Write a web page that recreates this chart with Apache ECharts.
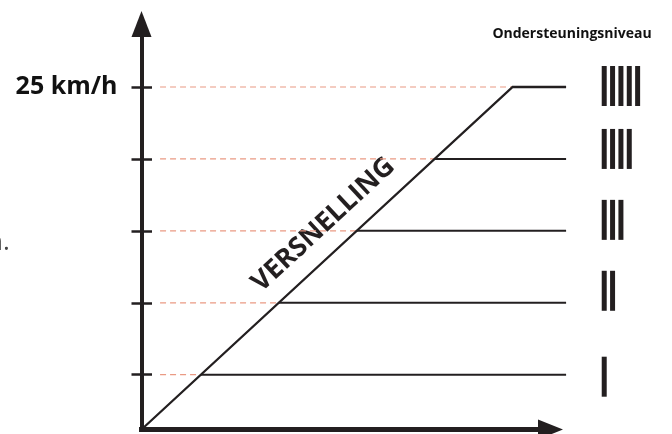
<!DOCTYPE html>
<html><head><meta charset="utf-8">
<script src="https://cdn.jsdelivr.net/npm/echarts@6/dist/echarts.min.js"></script>
<style>html,body{margin:0;padding:0;background:#fff}#c{width:672px;height:434px}</style>
</head><body><div id="c"></div>
<script>
// ---- data (schematic) ----
const levelSpeeds = [4, 9.25, 14.5, 19.75, 25];   // speed of each assist level
const levelBars = [1, 2, 3, 4, 5];                // number of bars in the level icon
const accelTimes = [0, 25];                       // acceleration ramp (time)
const accelSpeeds = [0, 25];                      // acceleration ramp (speed)
const plateauEndTime = 28.6;                      // where level lines end
const topTickLabel = '25 km/h';
const legendTitle = 'Ondersteuningsniveau';
const rampLabel = 'VERSNELLING';

// ---- styles / layout ----
const INK = '#231f20';
const DASH = '#ea9a84';
const DASH_START = 1.25;
const ICON_X = 31.0;
const ICON_DY = [2, -12, -11, -10, -1];
const X_MAX = 27.55, Y_MAX = 29.6;

const rampRate = (accelSpeeds[1] - accelSpeeds[0]) / (accelTimes[1] - accelTimes[0]);
const timeAt = v => accelTimes[0] + (v - accelSpeeds[0]) / rampRate;

// black paths: ramp + top plateau, then the lower level lines
const blackPaths = [[[accelTimes[0], accelSpeeds[0]], [accelTimes[1], accelSpeeds[1]], [plateauEndTime, accelSpeeds[1]]]];
levelSpeeds.forEach(v => { if (v < accelSpeeds[1]) blackPaths.push([[timeAt(v), v], [plateauEndTime, v]]); });
const dashPaths = levelSpeeds.map(v => [[DASH_START, v], [timeAt(v), v]]);

const series = [];
series.push({
  type: 'custom', clip: false, silent: true, z: 3,
  data: dashPaths.map((p, i) => [p[0][0], p[0][1], i]),
  renderItem: function (params, api) {
    const pts = dashPaths[api.value(2)].map(p => api.coord(p));
    return { type: 'polyline', shape: { points: pts }, style: { stroke: DASH, lineWidth: 1.2, lineDash: [6, 4], fill: null } };
  }
});
series.push({
  type: 'custom', clip: false, silent: true, z: 5,
  data: blackPaths.map((p, i) => [p[0][0], p[0][1], i]),
  renderItem: function (params, api) {
    const i = api.value(2);
    const pts = blackPaths[i].map(p => api.coord(p));
    return { type: 'polyline', shape: { points: pts }, style: { stroke: INK, lineWidth: i === 0 ? 2.3 : 2, fill: null, lineJoin: 'miter' } };
  }
});
// level icons
series.push({
  type: 'custom', clip: false, silent: true,
  data: levelSpeeds.map((v, i) => [ICON_X, v, levelBars[i], i]),
  renderItem: function (params, api) {
    const p = api.coord([api.value(0), api.value(1)]);
    const n = api.value(2);
    const idx = api.value(3);
    const cy = p[1] + ICON_DY[idx];
    const children = [];
    for (let k = 0; k < n; k++) {
      children.push({ type: 'rect', shape: { x: p[0] + k * 8.35, y: cy - 20, width: 5, height: 40 }, style: { fill: INK } });
    }
    return { type: 'group', children };
  }
});

const chart = echarts.init(document.getElementById('c'), null, { renderer: 'canvas' });
const yCommon = {
  type: 'value', min: 0, max: Y_MAX, position: 'left', splitLine: { show: false }
};
chart.setOption({
  animation: false,
  grid: { left: 141.5, right: 121.5, top: 24, bottom: 4.5, containLabel: false },
  xAxis: {
    type: 'value', min: 0, max: X_MAX, splitLine: { show: false },
    axisLabel: { show: false }, axisTick: { show: false },
    axisLine: { show: true, symbol: ['none', 'triangle'], symbolSize: [20, 25], lineStyle: { color: INK, width: 5, cap: 'square' } }
  },
  yAxis: [
    Object.assign({}, yCommon, {
      axisLine: { show: true, symbol: ['none', 'triangle'], symbolSize: [20, 26], lineStyle: { color: INK, width: 4, cap: 'square' } },
      axisTick: { show: true, customValues: levelSpeeds, length: 10, inside: false, lineStyle: { color: INK, width: 2.5 } },
      axisLabel: {
        show: true, customValues: [levelSpeeds[levelSpeeds.length - 1]], formatter: () => topTickLabel,
        margin: 24, fontSize: 25, fontWeight: 'bold', fontFamily: 'Open Sans', color: '#111'
      }
    }),
    Object.assign({}, yCommon, {
      axisLine: { show: false },
      axisTick: { show: true, customValues: levelSpeeds, length: 10.5, inside: true, lineStyle: { color: INK, width: 2.5 } },
      axisLabel: { show: false }
    })
  ],
  series
});

// ramp label along the diagonal
const a = chart.convertToPixel({ gridIndex: 0 }, [accelTimes[0], accelSpeeds[0]]);
const b = chart.convertToPixel({ gridIndex: 0 }, [accelTimes[1], accelSpeeds[1]]);
const ang = Math.atan2(a[1] - b[1], b[0] - a[0]);
const ux = Math.cos(ang), uy = -Math.sin(ang);
const nx = -Math.sin(ang), ny = -Math.cos(ang);
const mx = (a[0] + b[0]) / 2 + 20 * ux + 27 * nx;
const my = (a[1] + b[1]) / 2 + 20 * uy + 27 * ny;

chart.setOption({
  graphic: [
    { type: 'text', x: mx, y: my, rotation: ang, silent: true,
      style: { text: rampLabel, font: 'bold 27px "Open Sans"', fill: INK, align: 'center', verticalAlign: 'middle' } },
    { type: 'text', x: 572, y: 34, silent: true,
      style: { text: legendTitle, font: 'bold 14px "Open Sans"', fill: '#111', align: 'center', verticalAlign: 'middle' } },
    { type: 'text', x: 1.5, y: 206, silent: true,
      style: { text: ':', font: '26px "Open Sans"', fill: '#444', align: 'right', verticalAlign: 'middle' } },
    { type: 'text', x: -13, y: 243, silent: true,
      style: { text: 'n.', font: '26px "Open Sans"', fill: '#444', align: 'left', verticalAlign: 'middle' } }
  ]
});
</script>
</body></html>
